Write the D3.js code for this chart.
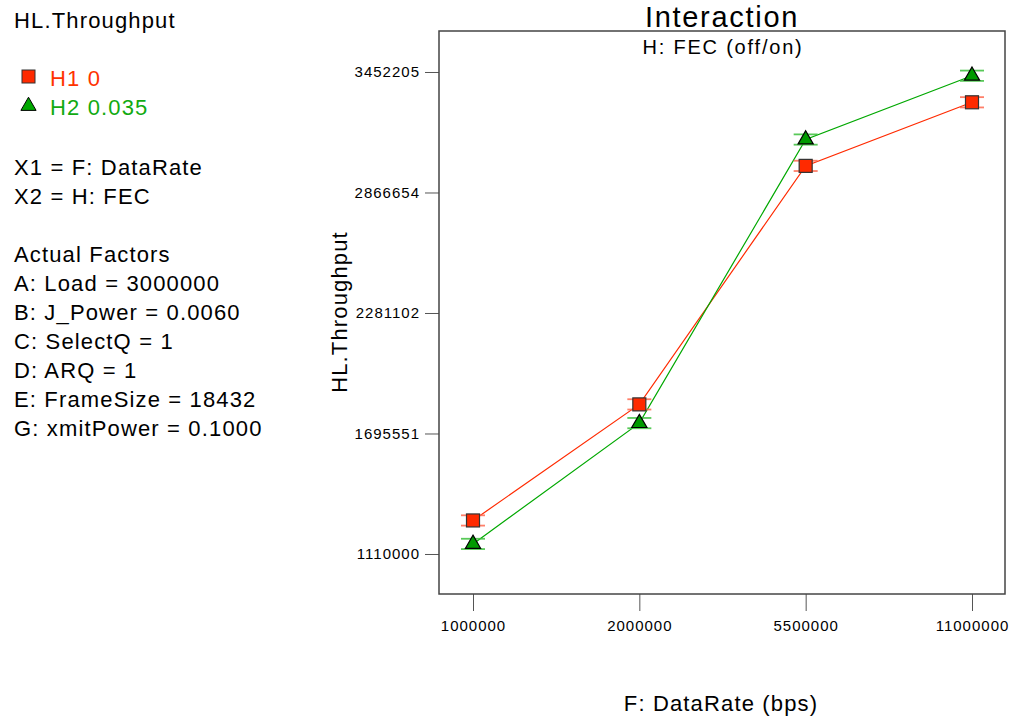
<!DOCTYPE html>
<html>
<head>
<meta charset="utf-8">
<script src="https://cdn.jsdelivr.net/npm/d3@7"></script>
<style>
  html, body { margin: 0; padding: 0; background: #fff; }
  svg { display: block; font-family: "Liberation Sans", Arial, Helvetica, sans-serif; }
</style>
</head>
<body>
<svg id="chart" width="1014" height="717"></svg>
<script>
// Factor F levels (data rate, bps)
const dataRates = ["1000000", "2000000", "5500000", "11000000"];
// Predicted throughput for FEC off (H1 = 0) and FEC on (H2 = 0.035)
const throughputH1 = [1273000, 1837000, 2996000, 3305000];
const throughputH2 = [1159000, 1746000, 3124000, 3434000];
// Half-width of the LSD bars around each prediction
const lsdHalf = [25000, 25000, 25000, 25000];
// Y axis tick values
const yTicks = [1110000, 1695551, 2281102, 2866654, 3452205];
// Side panel text
const legendLabels = ["H1 0", "H2 0.035"];
const factorLines = ["X1 = F: DataRate", "X2 = H: FEC"];
const actualFactors = [
  "Actual Factors",
  "A: Load = 3000000",
  "B: J_Power = 0.0060",
  "C: SelectQ = 1",
  "D: ARQ = 1",
  "E: FrameSize = 18432",
  "G: xmitPower = 0.1000"
];

const svg = d3.select("#chart");
const frame = { left: 439, right: 1005, top: 31, bottom: 594 };

const x = d3.scalePoint().domain(dataRates).range([473, 972]);
const y = d3.scaleLinear().domain([915600, 3651400]).range([frame.bottom, frame.top]);

const red = "#ff2a00", redText = "#ff3300";
const green = "#00a800", greenText = "#11aa11";

// Shared text styles
const bigText = sel => sel.attr("font-size", 22).attr("letter-spacing", 1.15);
const tickText = sel => sel.attr("font-size", 15).attr("letter-spacing", 1)
  .attr("fill", "#000").attr("font-family", "Liberation Sans, Arial, sans-serif");

// Side panel
const side = svg.append("g").attr("fill", "#000");
side.append("text").attr("x", 14).attr("y", 28).call(bigText).text("HL.Throughput");

const leg = svg.append("g");
leg.append("rect").attr("x", 22).attr("y", 70).attr("width", 13).attr("height", 13)
  .attr("fill", red).attr("stroke", "#333").attr("stroke-width", 1);
leg.append("text").attr("x", 50).attr("y", 86).call(bigText).attr("fill", redText).text(legendLabels[0]);
leg.append("path").attr("d", d3.symbol(d3.symbolTriangle, 100)()).attr("transform", "translate(28.5,106)")
  .attr("fill", green).attr("stroke", "#000").attr("stroke-width", 1);
leg.append("text").attr("x", 50).attr("y", 115).call(bigText).attr("fill", greenText).text(legendLabels[1]);

factorLines.forEach((t, i) => side.append("text").attr("x", 14).attr("y", 175 + i * 29).call(bigText).text(t));
actualFactors.forEach((t, i) => side.append("text").attr("x", 14).attr("y", 262 + i * 29).call(bigText).text(t));

// Titles
svg.append("text").attr("x", 722).attr("y", 27).attr("text-anchor", "middle")
  .attr("font-size", 29).attr("letter-spacing", 1.7).text("Interaction");
svg.append("text").attr("x", 723).attr("y", 54).attr("text-anchor", "middle")
  .attr("font-size", 20).attr("letter-spacing", 1.8).text("H: FEC (off/on)");

// Y axis
const yAxis = d3.axisLeft(y).tickValues(yTicks).tickFormat(d3.format("d")).tickSize(14).tickPadding(5);
const gy = svg.append("g").attr("transform", `translate(${frame.left},0)`).call(yAxis);
gy.select(".domain").remove();
gy.selectAll(".tick line").attr("stroke", "#555");
gy.selectAll(".tick text").call(tickText);

// X axis
const xAxis = d3.axisBottom(x).tickSize(17).tickPadding(9);
const gx = svg.append("g").attr("transform", `translate(0,${frame.bottom})`).call(xAxis);
gx.select(".domain").remove();
gx.selectAll(".tick line").attr("stroke", "#555");
gx.selectAll(".tick text").call(tickText);

// Plot frame
svg.append("rect").attr("x", frame.left).attr("y", frame.top)
  .attr("width", frame.right - frame.left).attr("height", frame.bottom - frame.top)
  .attr("fill", "none").attr("stroke", "#444").attr("stroke-width", 1.5);

// Axis titles
svg.append("text").attr("transform", "translate(347,312) rotate(-90)").attr("text-anchor", "middle")
  .call(bigText).text("HL.Throughput");
svg.append("text").attr("x", 721).attr("y", 711).attr("text-anchor", "middle")
  .call(bigText).text("F: DataRate (bps)");

// Series
const series = [
  { vals: throughputH1, color: red, bar: "#ff6a50", shape: "square" },
  { vals: throughputH2, color: green, bar: "#3cc03c", shape: "triangle" }
];
const line = d3.line().x((d, i) => x(dataRates[i])).y(d => y(d));
const plot = svg.append("g");

series.forEach(s => {
  plot.append("path").attr("d", line(s.vals)).attr("fill", "none")
    .attr("stroke", s.color).attr("stroke-width", 1.2);
});

series.forEach(s => {
  s.vals.forEach((v, i) => {
    const cx = x(dataRates[i]);
    [v - lsdHalf[i], v + lsdHalf[i]].forEach(b => {
      plot.append("line").attr("x1", cx - 12).attr("x2", cx + 12)
        .attr("y1", y(b)).attr("y2", y(b))
        .attr("stroke", s.bar).attr("stroke-width", 1.8).attr("stroke-opacity", 0.85);
    });
  });
});

series.forEach(s => {
  s.vals.forEach((v, i) => {
    const cx = x(dataRates[i]), cy = y(v);
    if (s.shape === "square") {
      plot.append("rect").attr("x", cx - 6.5).attr("y", cy - 6.5).attr("width", 13).attr("height", 13)
        .attr("fill", s.color).attr("stroke", "#333").attr("stroke-width", 1.2);
    } else {
      plot.append("path").attr("d", d3.symbol(d3.symbolTriangle, 100)())
        .attr("transform", `translate(${cx},${cy})`)
        .attr("fill", "#009a00").attr("stroke", "#000").attr("stroke-width", 1.2);
    }
  });
});
</script>
</body>
</html>
